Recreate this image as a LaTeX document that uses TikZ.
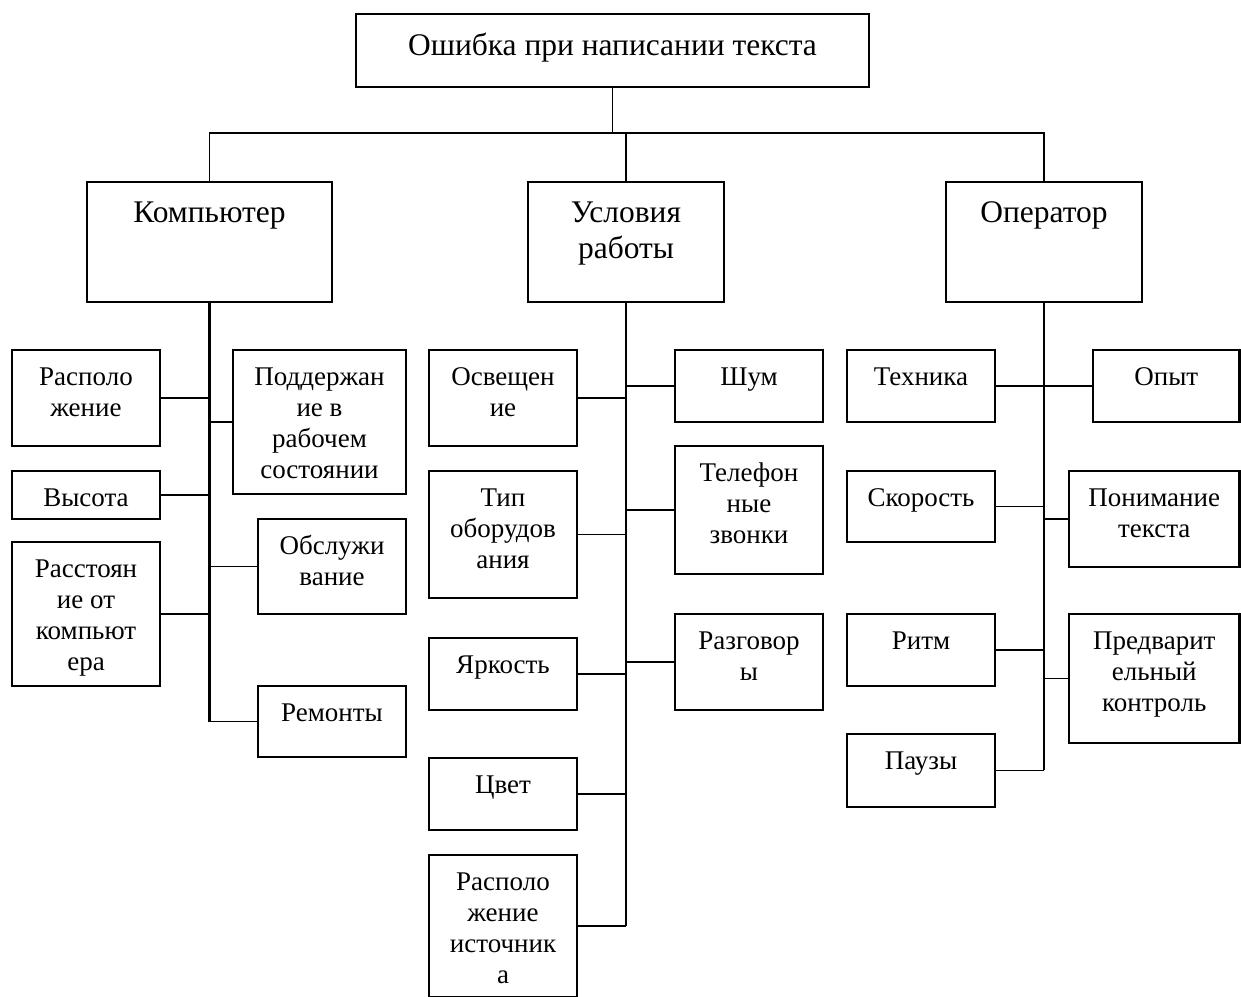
\documentclass[tikz,border=0pt]{standalone}
\usepackage{fontspec}
\setmainfont{Liberation Serif}
\tikzset{
  boxst/.style={draw, line width=1.6pt, rectangle, inner sep=0pt, outer sep=0pt},
  leaffont/.style={font=\fontsize{20.25pt}{23.25pt}\selectfont, align=center, inner sep=0pt, anchor=north},
  headfont/.style={font=\fontsize{23.6pt}{27.4pt}\selectfont, align=center, inner sep=0pt, anchor=north},
  link/.style={line width=1.4pt},
  trunk/.style={line width=2.2pt},
}
% name, x1, y1, x2, y2, text style, text offset, text
\newcommand\mkbox[8]{%
  \node[boxst, minimum width={(#4-#2)*0.75pt}, minimum height={(#5-#3)*0.75pt}] (#1) at ({(#2+#4)/2},{(#3+#5)/2}) {};
  \node[#6] (#1-t) at ({(#2+#4)/2},{#3+#7}) {\strut #8};
}
\begin{document}
\begin{tikzpicture}[x=0.75pt, y=-0.75pt]
\useasboundingbox (0,0) rectangle (1241,996);
\clip (0,0) rectangle (1241,996);

% top levels
\mkbox{title}{356}{14}{869}{87}{headfont}{15.4}{Ошибка при написании текста}
\mkbox{komp}{87}{182}{332}{302}{headfont}{14.4}{Компьютер}
\mkbox{usl}{528}{182}{724}{302}{headfont}{14.4}{Условия\\работы}
\mkbox{oper}{946}{182}{1142}{302}{headfont}{14.4}{Оператор}

% Компьютер
\mkbox{k1}{12}{350}{160}{446}{leaffont}{13.3}{Располо\\жение}
\mkbox{k2}{12}{471}{160}{519}{leaffont}{13.3}{Высота}
\mkbox{k3}{12}{542}{160}{686}{leaffont}{13.3}{Расстоян\\ие от\\компьют\\ера}
\mkbox{k4}{233}{350}{406}{494}{leaffont}{13.3}{Поддержан\\ие в\\рабочем\\состоянии}
\mkbox{k5}{258}{519}{406}{614}{leaffont}{13.3}{Обслужи\\вание}
\mkbox{k6}{258}{686}{406}{757}{leaffont}{13.3}{Ремонты}

% Условия работы
\mkbox{u1}{429}{350}{577}{446}{leaffont}{13.3}{Освещен\\ие}
\mkbox{u2}{429}{471}{577}{598}{leaffont}{13.3}{Тип\\оборудов\\ания}
\mkbox{u3}{429}{638}{577}{710}{leaffont}{13.3}{Яркость}
\mkbox{u4}{429}{758}{577}{830}{leaffont}{13.3}{Цвет}
\mkbox{u5}{429}{855}{577}{997}{leaffont}{13.3}{Располо\\жение\\источник\\а}
\mkbox{u6}{675}{350}{823}{422}{leaffont}{13.3}{Шум}
\mkbox{u7}{675}{446}{823}{574}{leaffont}{13.3}{Телефон\\ные\\звонки}
\mkbox{u8}{675}{614}{823}{710}{leaffont}{13.3}{Разговор\\ы}

% Оператор
\mkbox{o1}{847}{350}{995}{422}{leaffont}{13.3}{Техника}
\mkbox{o2}{847}{471}{995}{542}{leaffont}{13.3}{Скорость}
\mkbox{o3}{847}{614}{995}{686}{leaffont}{13.3}{Ритм}
\mkbox{o4}{847}{734}{995}{807}{leaffont}{13.3}{Паузы}
\mkbox{o5}{1093}{350}{1239.5}{422}{leaffont}{13.3}{Опыт}
\mkbox{o6}{1069}{471}{1239.5}{567}{leaffont}{13.3}{Понимание\\текста}
\mkbox{o7}{1069}{614}{1239.5}{743}{leaffont}{13.3}{Предварит\\ельный\\контроль}

% upper connectors
\coordinate (hub) at (612.5,133);
\draw[link] (title.south) -- (hub);
\draw[link] (komp.north) |- (hub) -| (oper.north);
\draw[link] (usl.north) -- (usl.north |- hub);

% trunks
\coordinate (kend) at (209.5,722);
\coordinate (uend) at (626,926);
\coordinate (oend) at (1044,770);
\draw[trunk] (komp.south) -- (kend);
\draw[trunk] (usl.south) -- (uend);
\draw[trunk] (oper.south) -- (oend);

% branches
\foreach \n in {k1,k2,k3} \draw[link] (\n.east) -- (\n.east -| kend);
\foreach \n in {k4,k5,k6} \draw[link] (\n.west) -- (\n.west -| kend);
\foreach \n in {u1,u2,u3,u4,u5} \draw[link] (\n.east) -- (\n.east -| uend);
\foreach \n in {u6,u7,u8} \draw[link] (\n.west) -- (\n.west -| uend);
\foreach \n in {o1,o2,o3,o4} \draw[link] (\n.east) -- (\n.east -| oend);
\foreach \n in {o5,o6,o7} \draw[link] (\n.west) -- (\n.west -| oend);
\end{tikzpicture}
\end{document}
